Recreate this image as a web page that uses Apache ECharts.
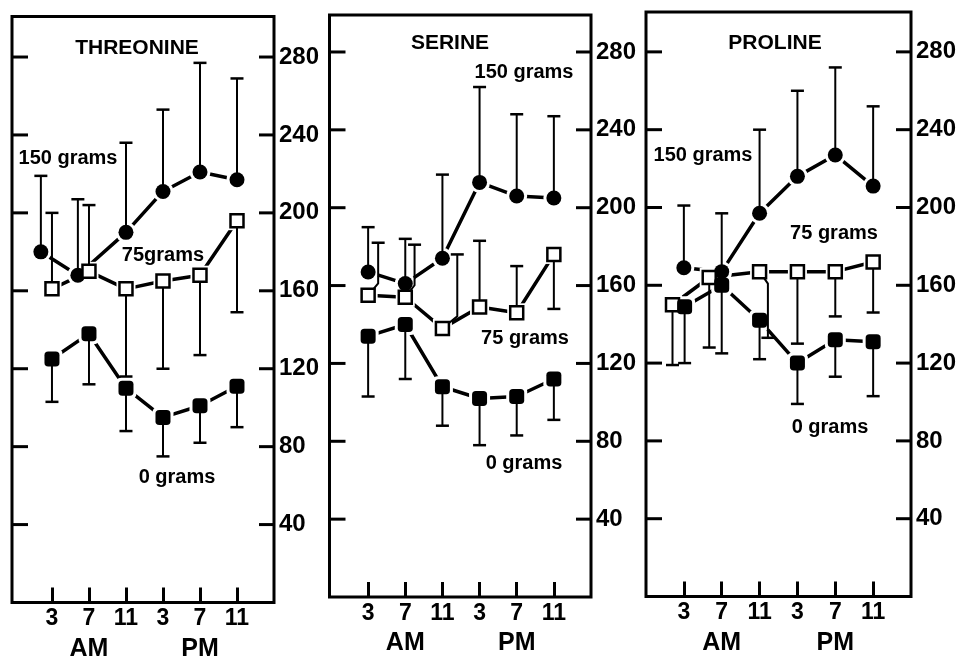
<!DOCTYPE html>
<html>
<head>
<meta charset="utf-8">
<script src="https://cdn.jsdelivr.net/npm/echarts@6/dist/echarts.min.js"></script>
<style>
  html, body { margin: 0; padding: 0; background: #fff; }
  #chart { width: 963px; height: 659px; }
</style>
</head>
<body>
<div id="chart"></div>
<script>
// time axis
const hourLabels = ['3', '7', '11', '3', '7', '11'];
const hourSlots = [1, 2, 3, 4, 5, 6];
const periodLabels = ['AM', 'PM'];
const periodSlots = [2, 5];
const yTicks = [40, 80, 120, 160, 200, 240, 280];

// THREONINE
const thrX150 = [0.7, 1.7, 3, 4, 5, 6];
const thr150 = [180, 168, 190, 211, 221, 217];
const thr150Cap = [219, 207, 236, 253, 277, 269];
const thrX75 = [1, 2, 3, 4, 5, 6];
const thr75 = [161, 170, 161, 165, 168, 196];
const thr75Cap = [200, 204, 116, 120, 127, 149];
const thrX0 = [1, 2, 3, 4, 5, 6];
const thr0 = [125, 138, 110, 95, 101, 111];
const thr0Cap = [103, 112, 88, 75, 82, 90];

// SERINE
const serX150 = [1, 2, 3, 4, 5, 6];
const ser150 = [167, 161, 174, 213, 206, 205];
const ser150Cap = [190, 184, 217, 262, 248, 247];
const serX75 = [1, 2, 3, 4, 5, 6];
const serBarX75 = [1.27, 2.25, 3.4, 4, 5, 6];
const ser75 = [155, 154, 138, 149, 146, 176];
const ser75Cap = [182, 181, 176, 183, 170, 148];
const serX0 = [1, 2, 3, 4, 5, 6];
const ser0 = [134, 140, 108, 102, 103, 112];
const ser0Cap = [103, 112, 88, 78, 83, 91];

// PROLINE
const proX150 = [1, 2, 3, 4, 5, 6];
const pro150 = [169, 167, 197, 216, 227, 211];
const pro150Cap = [201, 197, 240, 260, 272, 252];
const proX75 = [0.7, 1.67, 3, 4, 5, 6];
const proBarX75 = [0.7, 1.67, 3.22, 4, 5, 6];
const pro75 = [150, 164, 167, 167, 167, 172];
const pro75Cap = [119, 128, 133, 130, 144, 146];
const proX0 = [1.02, 2, 3, 4, 5, 6];
const pro0 = [149, 160, 142, 120, 132, 131];
const pro0Cap = [120, 125, 122, 99, 113, 103];

const FONT = 'Liberation Sans';

const panels = [
    {
        title: 'THREONINE', titlePos: [137, 48],
        grid: { left: 12, top: 16.5, width: 262, height: 586 },
        xRange: [-0.08, 7], yMax: 300.8,
        series: [
            { x: thrX150, barX: thrX150, mean: thr150, cap: thr150Cap, kind: 'circle' },
            { x: thrX75, barX: thrX75, mean: thr75, cap: thr75Cap, kind: 'open' },
            { x: thrX0, barX: thrX0, mean: thr0, cap: thr0Cap, kind: 'filled' }
        ],
        notes: [['150 grams', 68, 158], ['75grams', 163, 255], ['0 grams', 177, 477]]
    },
    {
        title: 'SERINE', titlePos: [450, 43],
        grid: { left: 329.5, top: 15, width: 261.5, height: 582 },
        xRange: [-0.04, 7], yMax: 299,
        series: [
            { x: serX150, barX: serX150, mean: ser150, cap: ser150Cap, kind: 'circle' },
            { x: serX75, barX: serBarX75, mean: ser75, cap: ser75Cap, kind: 'open' },
            { x: serX0, barX: serX0, mean: ser0, cap: ser0Cap, kind: 'filled' }
        ],
        notes: [['150 grams', 524, 72], ['75 grams', 525, 338], ['0 grams', 524, 463]]
    },
    {
        title: 'PROLINE', titlePos: [775, 43],
        grid: { left: 646, top: 12, width: 265, height: 584.5 },
        xRange: [0, 7], yMax: 300.5,
        series: [
            { x: proX150, barX: proX150, mean: pro150, cap: pro150Cap, kind: 'circle' },
            { x: proX75, barX: proBarX75, mean: pro75, cap: pro75Cap, kind: 'open' },
            { x: proX0, barX: proX0, mean: pro0, cap: pro0Cap, kind: 'filled' }
        ],
        notes: [['150 grams', 703, 155], ['75 grams', 834, 233], ['0 grams', 830, 427]]
    }
];

const markerStyle = {
    circle: { symbol: 'circle', symbolSize: 15, itemStyle: { color: '#000', opacity: 1 } },
    open: { symbol: 'rect', symbolSize: 13,
            itemStyle: { color: '#fff', borderColor: '#000', borderWidth: 2.5, opacity: 1 } },
    filled: { symbol: 'roundRect', symbolSize: 15, itemStyle: { color: '#000', opacity: 1 } }
};

// bar from the marker to the cap; offset bars bend in from the marker
function errorBar (params, api) {
    const mx = api.value(3), bx = api.value(0), m = api.value(1), c = api.value(2);
    const a = api.coord([mx, m]);
    const top = api.coord([bx, c]);
    const pts = [a];
    if (Math.abs(mx - bx) > 0.01) {
        pts.push([top[0], a[1] + (c > m ? -12 : 12)]);
    }
    pts.push(top);
    return {
        type: 'group',
        children: [
            { type: 'polyline', shape: { points: pts },
              style: { stroke: '#000', lineWidth: 2, fill: null } },
            { type: 'line', shape: { x1: top[0] - 6.5, y1: top[1], x2: top[0] + 6.5, y2: top[1] },
              style: { stroke: '#000', lineWidth: 2.5 } }
        ]
    };
}

// inward ticks on both sides of the box, placed by the y scale
function boxTicks (xr) {
    return function (params, api) {
        const v = api.value(1);
        const l = api.coord([xr[0], v]);
        const r = api.coord([xr[1], v]);
        return {
            type: 'group',
            children: [
                { type: 'line', shape: { x1: l[0], y1: l[1], x2: l[0] + 16, y2: l[1] },
                  style: { stroke: '#000', lineWidth: 3 } },
                { type: 'line', shape: { x1: r[0] - 15, y1: r[1], x2: r[0], y2: r[1] },
                  style: { stroke: '#000', lineWidth: 3 } }
            ]
        };
    };
}

const grid = [], xAxis = [], yAxis = [], series = [], graphic = [];

panels.forEach((p, i) => {
    grid.push(Object.assign({ show: true, borderColor: '#000', borderWidth: 3,
        backgroundColor: 'transparent', containLabel: false, outerBoundsMode: 'none' }, p.grid));

    // hour ticks
    xAxis.push({
        type: 'value', gridIndex: i, min: p.xRange[0], max: p.xRange[1], position: 'bottom',
        axisLine: { show: false },
        splitLine: { show: false },
        axisTick: { show: true, inside: true, length: 15, customValues: hourSlots,
                    lineStyle: { color: '#000', width: 3 } },
        axisLabel: { show: true, customValues: hourSlots, margin: 5,
                     formatter: v => hourLabels[Math.round(v) - 1],
                     color: '#000', fontFamily: FONT, fontWeight: 'bold', fontSize: 23 }
    });
    // AM / PM row
    xAxis.push({
        type: 'value', gridIndex: i, min: p.xRange[0], max: p.xRange[1], position: 'bottom',
        axisLine: { show: false }, axisTick: { show: false }, splitLine: { show: false },
        axisLabel: { show: true, customValues: periodSlots, margin: 34,
                     formatter: v => periodLabels[periodSlots.indexOf(Math.round(v))],
                     color: '#000', fontFamily: FONT, fontWeight: 'bold', fontSize: 25 }
    });
    // right axis: labels only, ticks come from boxTicks
    yAxis.push({
        type: 'value', gridIndex: i, min: 0, max: p.yMax, position: 'right',
        axisLine: { show: false }, splitLine: { show: false }, axisTick: { show: false },
        axisLabel: { show: true, customValues: yTicks, margin: 5,
                     color: '#000', fontFamily: FONT, fontWeight: 'bold', fontSize: 24 }
    });

    const axes = { xAxisIndex: i * 2, yAxisIndex: i, silent: true, animation: false };

    series.push(Object.assign({
        type: 'custom', z: 1, renderItem: boxTicks(p.xRange), encode: { x: 0, y: 1 },
        data: yTicks.map(v => [1, v])
    }, axes));

    p.series.forEach(s => {
        const pts = s.x.map((x, k) => [x, s.mean[k]]);
        const mk = markerStyle[s.kind];
        // connecting line
        series.push(Object.assign({
            type: 'line', z: 2, symbol: 'none',
            lineStyle: { color: '#000', width: 3.5 }, data: pts
        }, axes));
        // white halo leaves a small gap where the line meets the marker
        series.push(Object.assign({
            type: 'scatter', z: 3, symbol: mk.symbol, symbolSize: mk.symbolSize + 6,
            itemStyle: { color: '#fff', opacity: 1 }, data: pts
        }, axes));
        series.push(Object.assign({
            type: 'custom', z: 4, renderItem: errorBar, encode: { x: 0, y: [1, 2] },
            data: s.barX.map((bx, k) => [bx, s.mean[k], s.cap[k], s.x[k]])
        }, axes));
        series.push(Object.assign({ type: 'scatter', z: 5, data: pts }, mk, axes));
    });

    graphic.push({
        type: 'text', x: p.titlePos[0], y: p.titlePos[1],
        style: { text: p.title, fill: '#000', fontFamily: FONT, fontWeight: 'bold',
                 fontSize: 21, align: 'center', verticalAlign: 'middle' }
    });
    p.notes.forEach(n => {
        graphic.push({
            type: 'text', x: n[1], y: n[2],
            style: { text: n[0], fill: '#000', fontFamily: FONT, fontWeight: 'bold',
                     fontSize: 20, align: 'center', verticalAlign: 'middle' }
        });
    });
});

const chart = echarts.init(document.getElementById('chart'));
chart.setOption({
    backgroundColor: '#fff',
    animation: false,
    grid: grid,
    xAxis: xAxis,
    yAxis: yAxis,
    series: series,
    graphic: graphic
});
</script>
</body>
</html>
